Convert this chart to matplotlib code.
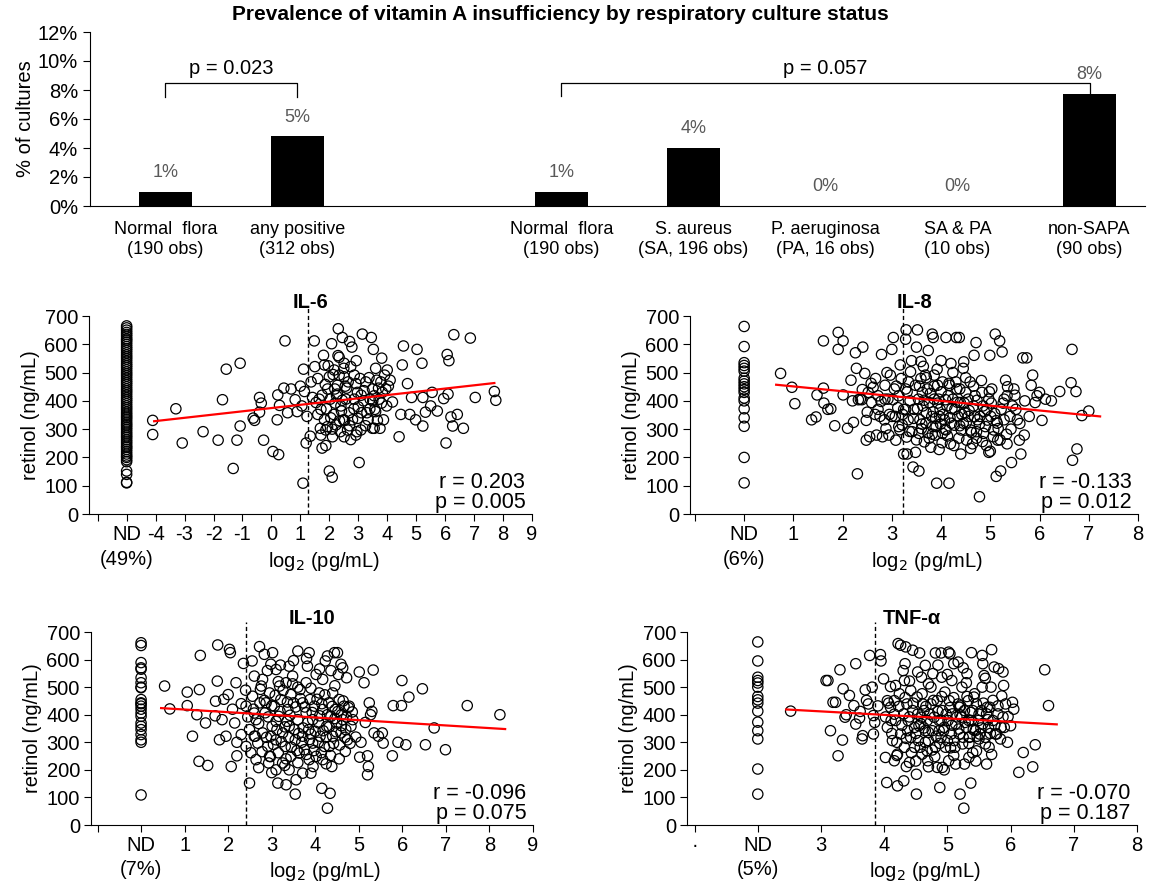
import matplotlib.pyplot as plt
import numpy as np

plt.rcParams['font.family'] = ['Liberation Sans', 'DejaVu Sans']

# ---- top bar chart data ----
cat_labels = ["Normal  flora\n(190 obs)", "any positive\n(312 obs)",
              "Normal  flora\n(190 obs)", "S. aureus\n(SA, 196 obs)",
              "P. aeruginosa\n(PA, 16 obs)", "SA & PA\n(10 obs)", "non-SAPA\n(90 obs)"]
cat_pos = [0, 1, 3, 4, 5, 6, 7]
pct_values = [0.99, 4.8, 0.99, 4.02, 0.0, 0.0, 7.7]
pct_labels = ["1%", "5%", "1%", "4%", "0%", "0%", "8%"]

# ---- scatter data (log2 pg/mL, retinol ng/mL) ----
il6_nd = [110, 112, 140, 152, 185, 192, 200, 205, 212, 220, 228, 235, 240, 248, 255, 262,
          270, 276, 283, 290, 298, 305, 312, 318, 325, 333, 340, 346, 353, 360, 368, 375,
          382, 390, 398, 405, 412, 420, 428, 435, 442, 450, 458, 465, 472, 480, 488, 495,
          502, 510, 518, 525, 532, 540, 548, 555, 562, 570, 578, 585, 592, 600, 608, 615,
          620, 628, 635, 642, 650, 658, 665]
il6_pts = [(-4.1, 331), (-4.1, 281), (-3.3, 372), (-3.08, 251), (-2.36, 291), (-1.84, 261),
           (-1.69, 404), (-1.56, 512), (-1.32, 161), (-1.19, 261), (-1.08, 533), (-1.08, 311),
           (-0.63, 339), (-0.58, 331), (-0.41, 412), (-0.35, 392), (-0.41, 360), (-0.27, 261),
           (0.05, 221), (0.25, 210), (0.2, 333), (0.22, 421), (0.28, 384), (0.43, 445),
           (0.47, 612), (0.56, 358), (0.68, 442), (0.82, 404), (0.89, 362), (1.0, 452),
           (1.05, 382), (1.14, 433), (1.11, 512), (1.2, 251), (1.09, 109), (1.23, 345),
           (1.34, 275), (1.48, 612), (1.42, 412), (1.5, 521), (1.6, 479), (1.65, 406),
           (1.69, 303), (1.75, 233), (1.8, 561), (1.86, 458), (1.88, 242), (1.96, 524),
           (2.0, 152), (2.1, 130), (2.08, 602), (2.13, 493), (2.19, 442), (2.25, 418),
           (2.31, 655), (2.34, 554), (2.4, 382), (2.45, 624), (2.5, 515), (2.53, 331),
           (2.6, 445), (2.65, 467), (2.74, 263), (2.78, 590), (2.86, 491), (2.93, 542),
           (2.97, 430), (3.03, 182), (3.09, 297), (3.0, 379), (3.14, 636), (3.2, 436),
           (3.3, 358), (3.37, 482), (3.45, 624), (3.52, 582), (3.55, 303), (3.6, 515),
           (3.66, 331), (3.7, 445), (3.75, 303), (3.81, 551), (3.87, 333), (3.95, 442),
           (4.0, 509), (4.1, 473), (4.18, 396), (4.41, 273), (4.47, 352), (4.52, 527),
           (4.56, 594), (4.7, 461), (4.78, 352), (4.84, 412), (4.98, 333), (5.03, 582),
           (5.2, 533), (5.23, 311), (5.23, 412), (5.32, 360), (5.5, 382), (5.55, 430),
           (5.73, 364), (5.95, 408), (6.03, 251), (6.07, 564), (6.13, 542), (6.1, 424),
           (6.2, 343), (6.26, 311), (6.42, 352), (6.63, 303), (6.3, 634), (6.87, 622),
           (7.04, 412), (7.7, 433), (7.75, 402),
           (1.37, 467), (1.54, 394), (1.71, 370), (1.83, 333), (1.94, 309), (2.03, 406),
           (2.15, 352), (2.23, 315), (2.28, 455), (2.38, 291), (2.42, 364), (2.49, 333),
           (2.57, 406), (2.63, 297), (2.69, 358), (2.8, 333), (2.86, 406), (2.92, 461),
           (2.95, 291), (3.06, 479), (3.11, 358), (3.18, 400), (3.26, 467), (3.34, 333),
           (3.41, 406), (3.49, 442), (3.57, 370), (3.64, 473), (3.72, 406), (3.78, 467),
           (3.83, 430), (3.91, 491), (3.98, 382), (4.04, 452), (3.55, 418), (2.51, 485),
           (2.34, 491), (2.0, 485), (1.88, 297), (1.71, 279), (2.11, 273), (2.51, 273),
           (2.92, 279), (3.49, 303), (1.94, 442), (1.83, 527), (2.51, 533), (2.74, 521),
           (2.28, 424), (2.17, 509),
           (1.6, 352), (1.75, 420), (1.9, 372), (2.05, 340), (2.2, 392), (2.35, 330),
           (2.45, 402), (2.55, 452), (2.7, 312), (2.85, 372), (2.98, 338), (3.1, 420),
           (3.25, 312), (3.4, 372), (3.6, 362), (3.8, 392), (2.3, 560), (2.7, 610),
           (3.5, 400), (2.1, 300)]

il8_nd = [663, 592, 535, 525, 515, 505, 480, 470, 460, 450, 440, 430, 410, 400, 372, 340,
          310, 200, 110]
il8_pts = [(0.74, 497), (0.97, 448), (1.03, 390), (1.37, 333), (1.46, 343), (1.48, 421),
           (1.61, 445), (1.61, 612), (1.62, 392), (1.7, 370), (1.76, 372), (1.84, 312),
           (1.91, 582), (1.91, 642), (2.01, 612), (2.01, 421), (2.1, 303), (2.17, 473),
           (2.22, 324), (2.26, 570), (2.28, 515), (2.3, 142), (2.32, 404), (2.36, 406),
           (2.39, 404), (2.41, 590), (2.45, 497), (2.48, 261), (2.48, 331), (2.55, 273),
           (2.62, 448), (2.67, 479), (2.69, 279), (2.72, 370), (2.76, 345), (2.79, 564),
           (2.81, 273), (2.85, 333), (2.9, 500), (2.92, 406), (2.94, 279), (3.0, 582),
           (3.03, 624), (3.05, 442), (3.08, 261), (3.12, 376), (3.17, 527), (3.21, 315),
           (3.24, 212), (3.28, 618), (3.29, 651), (3.31, 212), (3.34, 467), (3.37, 400),
           (3.41, 291), (3.43, 166), (3.48, 218), (3.5, 590), (3.52, 651), (3.55, 152),
           (3.57, 333), (3.59, 539), (3.62, 430), (3.66, 255), (3.68, 491), (3.7, 358),
           (3.74, 578), (3.79, 236), (3.82, 636), (3.84, 624), (3.86, 406), (3.88, 279),
           (3.91, 109), (3.93, 455), (3.97, 345), (4.0, 542), (4.03, 285), (4.1, 624),
           (4.14, 418), (4.16, 109), (4.19, 248), (4.24, 500), (4.28, 370), (4.31, 624),
           (4.37, 624), (4.38, 442), (4.41, 297), (4.45, 515), (4.48, 358), (4.52, 261),
           (4.55, 406), (4.59, 467), (4.64, 248), (4.67, 561), (4.71, 606), (4.74, 333),
           (4.78, 61), (4.83, 430), (4.86, 285), (4.93, 370), (4.97, 218), (4.99, 561),
           (5.03, 442), (5.07, 297), (5.1, 636), (5.12, 133), (5.15, 261), (5.19, 612),
           (5.21, 152), (5.24, 573), (5.28, 406), (5.31, 473), (5.34, 248), (5.4, 345),
           (5.43, 182), (5.48, 442), (5.52, 370), (5.59, 261), (5.62, 212), (5.66, 552),
           (5.74, 552), (5.69, 279), (5.79, 345), (5.83, 455), (5.86, 491), (5.91, 394),
           (5.95, 418), (6.0, 430), (6.05, 331), (6.12, 406), (6.24, 400), (6.41, 433),
           (6.64, 464), (6.66, 582), (6.74, 433), (6.76, 230), (6.67, 190), (6.86, 348),
           (7.0, 364),
           (2.86, 455), (2.97, 491), (3.07, 345), (3.14, 418), (3.19, 479), (3.24, 370),
           (3.28, 442), (3.33, 333), (3.38, 503), (3.45, 370), (3.48, 455), (3.54, 406),
           (3.59, 479), (3.63, 382), (3.69, 321), (3.72, 442), (3.76, 394), (3.81, 345),
           (3.86, 491), (3.9, 309), (3.95, 406), (3.98, 370), (4.03, 467), (4.07, 333),
           (4.12, 382), (4.17, 455), (4.21, 321), (4.24, 406), (4.3, 467), (4.34, 345),
           (4.39, 394), (4.45, 321), (4.5, 430), (4.55, 345), (4.6, 297), (4.66, 382),
           (4.69, 418), (4.72, 291), (4.79, 345), (4.85, 382), (4.9, 309), (4.97, 406),
           (5.01, 345), (5.06, 273), (5.14, 321), (5.22, 370), (5.28, 333), (5.34, 418),
           (5.45, 382), (5.55, 333), (3.55, 285), (3.83, 309), (4.1, 297), (3.28, 370),
           (3.14, 309), (3.0, 345), (2.86, 406), (2.72, 418), (2.59, 394), (2.52, 430),
           (3.52, 372), (3.61, 318), (3.66, 402), (3.73, 287), (3.78, 426), (3.84, 361),
           (3.89, 338), (3.93, 392), (3.99, 318), (4.04, 352), (4.09, 404), (4.13, 276),
           (4.18, 341), (4.22, 372), (4.27, 314), (4.33, 395), (4.36, 268), (4.42, 352),
           (4.47, 392), (4.51, 322), (4.57, 366), (4.62, 288), (4.68, 344), (4.73, 402),
           (4.78, 318), (4.84, 256), (4.88, 362), (4.94, 332), (5.02, 392), (5.09, 355),
           (5.16, 302), (5.26, 392), (5.33, 282), (3.44, 338), (3.36, 292), (3.31, 432),
           (3.22, 352), (3.16, 298), (3.09, 452), (3.02, 404), (2.95, 352), (2.88, 302),
           (2.78, 398), (2.66, 352), (2.58, 462), (3.56, 452), (3.7, 482), (3.86, 452),
           (4.0, 432), (4.16, 462), (4.32, 442), (4.5, 482), (4.66, 452), (4.82, 472),
           (4.98, 432), (3.64, 522), (3.92, 512), (4.2, 532), (4.46, 538), (3.4, 542),
           (3.76, 268), (4.02, 252), (4.26, 242), (4.6, 232), (4.92, 242), (5.2, 262),
           (3.5, 262), (3.3, 272), (3.96, 228), (4.4, 212), (5.0, 222), (3.6, 302),
           (3.82, 282), (4.08, 300), (4.38, 312), (4.72, 268), (5.12, 330), (5.42, 300),
           (5.6, 320), (5.7, 400), (5.5, 420), (5.35, 450), (2.5, 360), (2.4, 440),
           (2.2, 400)]

il10_nd = [661, 651, 589, 570, 565, 534, 516, 500, 498, 455, 443, 440, 431, 420, 406, 394,
           370, 358, 346, 328, 309, 300, 109]
il10_pts = [(0.54, 504), (0.66, 421), (1.06, 482), (1.06, 433), (1.18, 322), (1.28, 400),
            (1.34, 491), (1.36, 615), (1.48, 370), (1.33, 231), (1.53, 216), (1.76, 653),
            (1.75, 522), (1.71, 449), (1.8, 309), (1.86, 382), (1.95, 322), (2.03, 637),
            (2.05, 625), (2.0, 473), (2.07, 212), (2.2, 251), (2.18, 516), (2.15, 370),
            (2.3, 328), (2.35, 586), (2.4, 489), (2.49, 152), (2.55, 595), (2.6, 406),
            (2.72, 647), (2.64, 237), (2.76, 504), (2.83, 619), (2.87, 443), (2.93, 225),
            (2.98, 583), (3.02, 625), (3.1, 376), (3.14, 152), (3.18, 504), (3.25, 225),
            (3.33, 146), (3.4, 576), (3.44, 473), (3.54, 112), (3.56, 164), (3.6, 631),
            (3.63, 261), (3.71, 443), (3.82, 576), (3.86, 625), (3.9, 188), (3.94, 382),
            (4.02, 546), (4.09, 479), (4.15, 133), (4.23, 595), (4.28, 613), (4.34, 115),
            (4.28, 61), (4.38, 212), (4.44, 625), (4.51, 625), (4.53, 546), (4.59, 583),
            (4.63, 570), (4.69, 267), (4.72, 534), (4.78, 431), (4.82, 358), (4.86, 382),
            (4.93, 319), (5.01, 555), (5.02, 246), (5.12, 516), (5.2, 251), (5.22, 212),
            (5.2, 182), (5.24, 443), (5.27, 400), (5.33, 562), (5.35, 334), (5.45, 322),
            (5.54, 334), (5.56, 297), (5.77, 251), (5.79, 433), (5.9, 300), (5.98, 433),
            (5.99, 524), (6.08, 291), (6.15, 464), (6.46, 494), (6.53, 291), (6.73, 352),
            (6.99, 273), (7.49, 433), (8.24, 400),
            (2.41, 431), (2.49, 346), (2.56, 467), (2.64, 382), (2.68, 297), (2.73, 443),
            (2.79, 334), (2.85, 407), (2.91, 285), (2.95, 479), (3.01, 358), (3.06, 431),
            (3.1, 309), (3.16, 394), (3.21, 455), (3.25, 334), (3.31, 285), (3.37, 419),
            (3.4, 358), (3.44, 249), (3.5, 443), (3.54, 309), (3.6, 382), (3.65, 491),
            (3.71, 322), (3.75, 273), (3.79, 407), (3.85, 346), (3.88, 455), (3.94, 297),
            (3.98, 431), (4.02, 249), (4.08, 370), (4.11, 322), (4.17, 419), (4.21, 285),
            (4.26, 358), (4.31, 443), (4.36, 394), (4.4, 322), (4.46, 419), (4.49, 370),
            (4.55, 455), (4.59, 334), (4.63, 382), (4.66, 431), (4.7, 346), (4.74, 309),
            (2.95, 249), (2.79, 528), (3.33, 516), (3.79, 516), (4.17, 528), (3.1, 564),
            (3.48, 540), (2.41, 285), (2.6, 322), (3.86, 237), (4.17, 237), (3.4, 200),
            (3.71, 188), (3.1, 200), (4.4, 479), (4.32, 285),
            (2.45, 392), (2.52, 262), (2.58, 420), (2.62, 322), (2.7, 368), (2.74, 492),
            (2.78, 266), (2.83, 452), (2.88, 318), (2.92, 392), (2.97, 248), (3.0, 432),
            (3.04, 292), (3.08, 470), (3.12, 346), (3.15, 262), (3.19, 412), (3.22, 302),
            (3.26, 488), (3.3, 356), (3.33, 240), (3.36, 446), (3.39, 318), (3.42, 398),
            (3.45, 282), (3.48, 512), (3.52, 346), (3.55, 428), (3.58, 270), (3.62, 332),
            (3.66, 458), (3.69, 300), (3.72, 352), (3.76, 428), (3.8, 256), (3.83, 372),
            (3.87, 310), (3.9, 496), (3.93, 408), (3.97, 270), (4.0, 340), (4.04, 456),
            (4.07, 300), (4.1, 396), (4.14, 262), (4.18, 342), (4.22, 472), (4.25, 318),
            (4.28, 400), (4.32, 356), (4.35, 252), (4.39, 430), (4.42, 296), (4.45, 386),
            (4.48, 338), (4.52, 412), (4.56, 290), (4.6, 360), (4.64, 450), (4.68, 318),
            (4.72, 392), (4.76, 426), (4.8, 296), (4.85, 410), (2.6, 540), (2.9, 560),
            (3.2, 580), (3.5, 596), (3.8, 604), (4.1, 566), (4.36, 560), (2.7, 208),
            (3.0, 190), (3.3, 216), (3.6, 226), (3.95, 212), (4.25, 222), (4.55, 240),
            (2.3, 440), (2.2, 300), (2.1, 420), (1.9, 456), (1.7, 396), (5.05, 300),
            (5.15, 372), (5.3, 412), (3.15, 520), (3.6, 500), (4.45, 505), (2.98, 322),
            (3.35, 376), (3.9, 330), (4.15, 440), (4.6, 400)]

tnf_nd = [664, 595, 536, 524, 515, 500, 466, 454, 442, 413, 373, 342, 312, 203, 112]
tnf_pts = [(2.52, 413), (3.08, 524), (3.11, 524), (3.15, 342), (3.19, 445), (3.23, 445),
           (3.27, 251), (3.3, 563), (3.34, 308), (3.35, 494), (3.38, 391), (3.52, 433),
           (3.55, 585), (3.61, 388), (3.65, 312), (3.66, 324), (3.7, 490), (3.75, 439),
           (3.77, 615), (3.81, 500), (3.83, 397), (3.94, 618), (3.95, 595), (3.99, 530),
           (4.02, 245), (4.04, 154), (4.05, 451), (4.11, 379), (4.16, 451), (4.18, 506),
           (4.21, 142), (4.22, 658), (4.26, 652), (4.31, 160), (4.33, 585), (4.34, 646),
           (4.37, 342), (4.4, 227), (4.42, 488), (4.45, 634), (4.48, 282), (4.51, 112),
           (4.51, 184), (4.53, 555), (4.56, 624), (4.59, 391), (4.61, 439), (4.65, 579),
           (4.68, 269), (4.7, 211), (4.74, 500), (4.77, 549), (4.81, 624), (4.84, 209),
           (4.87, 342), (4.88, 136), (4.9, 624), (4.92, 209), (4.96, 482), (5.02, 627),
           (5.04, 621), (5.07, 524), (5.1, 585), (5.13, 221), (5.17, 591), (5.19, 427),
           (5.2, 112), (5.26, 61), (5.27, 221), (5.31, 549), (5.34, 379), (5.37, 152),
           (5.38, 625), (5.42, 464), (5.46, 269), (5.5, 312), (5.55, 615), (5.56, 585),
           (5.58, 542), (5.62, 221), (5.63, 427), (5.69, 500), (5.7, 636), (5.74, 573),
           (5.78, 330), (5.81, 567), (5.88, 555), (5.9, 354), (5.89, 506), (5.92, 439),
           (5.96, 393), (6.03, 445), (6.13, 191), (6.2, 263), (6.35, 211), (6.39, 291),
           (6.54, 563), (6.6, 433),
           (4.05, 354), (4.1, 427), (4.13, 306), (4.18, 379), (4.21, 257), (4.24, 476),
           (4.26, 330), (4.31, 403), (4.32, 282), (4.36, 439), (4.38, 379), (4.42, 318),
           (4.45, 415), (4.48, 354), (4.52, 464), (4.54, 306), (4.58, 367), (4.6, 257),
           (4.63, 415), (4.65, 342), (4.68, 379), (4.7, 306), (4.74, 439), (4.76, 342),
           (4.79, 391), (4.81, 282), (4.84, 451), (4.87, 379), (4.9, 318), (4.92, 415),
           (4.95, 354), (4.97, 282), (5.01, 379), (5.03, 451), (5.06, 330), (5.08, 403),
           (5.11, 306), (5.13, 367), (5.17, 439), (5.19, 330), (5.22, 391), (5.24, 294),
           (5.27, 415), (5.3, 354), (5.33, 451), (5.35, 318), (5.38, 379), (5.4, 415),
           (5.44, 342), (5.46, 439), (5.49, 379), (5.51, 330), (5.54, 415), (5.56, 367),
           (5.6, 318), (5.62, 403), (5.65, 354), (5.67, 427), (5.72, 379), (5.76, 330),
           (5.8, 403), (5.85, 354), (4.32, 524), (4.59, 536), (4.91, 536), (5.23, 500),
           (5.55, 500), (4.69, 233), (5.02, 233), (5.34, 245), (5.66, 282), (4.16, 233),
           (3.83, 330),
           (4.02, 392), (4.07, 442), (4.12, 332), (4.16, 402), (4.2, 300), (4.23, 430),
           (4.28, 362), (4.33, 462), (4.35, 314), (4.4, 392), (4.43, 262), (4.46, 442),
           (4.5, 332), (4.53, 402), (4.57, 282), (4.6, 476), (4.63, 352), (4.66, 430),
           (4.7, 336), (4.72, 402), (4.76, 272), (4.78, 452), (4.82, 322), (4.85, 412),
           (4.88, 296), (4.91, 466), (4.94, 342), (4.98, 402), (5.0, 306), (5.04, 426),
           (5.07, 362), (5.1, 462), (5.12, 282), (5.15, 392), (5.18, 348), (5.21, 432),
           (5.25, 318), (5.28, 372), (5.31, 466), (5.34, 296), (5.37, 408), (5.41, 346),
           (5.43, 476), (5.47, 322), (5.5, 402), (5.53, 352), (5.57, 442), (5.6, 294),
           (5.64, 382), (5.68, 332), (5.72, 452), (5.75, 362), (5.8, 432), (5.84, 312),
           (5.88, 392), (5.86, 468), (4.1, 502), (4.4, 522), (4.7, 512), (5.0, 546),
           (5.3, 516), (5.6, 532), (4.3, 560), (4.85, 580), (5.25, 570), (4.2, 252),
           (4.5, 232), (4.8, 248), (5.1, 252), (5.4, 262), (5.7, 256), (4.35, 212),
           (4.95, 200), (5.45, 232), (3.9, 432), (3.85, 372), (3.72, 452), (3.62, 412),
           (3.55, 366), (3.45, 470), (3.4, 400), (6.0, 360), (6.05, 420), (5.95, 300),
           (4.55, 360), (4.9, 380), (5.2, 400), (4.65, 300), (5.05, 280), (5.35, 320)]

# fitted lines (endpoints) and detection cut-offs
il6_fit = ([-4.05, 7.7], [328, 463])
il8_fit = ([0.65, 7.23], [457, 345])
il10_fit = ([0.46, 8.36], [424, 348])
tnf_fit = ([2.45, 6.73], [419, 365])
cutoffs = {"IL-6": 1.28, "IL-8": 3.23, "IL-10": 2.41, "TNF-α": 3.86}
stats = {"IL-6": "r = 0.203\np = 0.005", "IL-8": "r = -0.133\np = 0.012",
         "IL-10": "r = -0.096\np = 0.075", "TNF-α": "r = -0.070\np = 0.187"}
nd_share = {"IL-6": "(49%)", "IL-8": "(6%)", "IL-10": "(7%)", "TNF-α": "(5%)"}

W, H = 1150, 888
fig = plt.figure(figsize=(W / 100, H / 100), dpi=100)


def rect(x0, x1, ytop, ybot):
    return [x0 / W, 1 - ybot / H, (x1 - x0) / W, (ybot - ytop) / H]


# ---- top bar chart ----
ax = fig.add_axes(rect(90, 1145, 32, 206))
ax.bar(cat_pos, pct_values, width=0.4, color="black")
for p, v, lab in zip(cat_pos, pct_values, pct_labels):
    ax.text(p, v + 0.75, lab, ha="center", va="bottom", fontsize=13, color="#595959")
ax.set_xlim(-0.57, 7.42)
ax.set_ylim(0, 12)
ax.set_yticks(range(0, 13, 2))
ax.set_yticklabels([f"{t}%" for t in range(0, 13, 2)], fontsize=14.5)
ax.set_xticks(cat_pos)
ax.set_xticklabels(cat_labels, fontsize=13, linespacing=1.2)
ax.tick_params(axis="x", length=0, pad=11)
ax.tick_params(axis="y", length=5, direction="out")
ax.set_ylabel("% of cultures", fontsize=14.5, labelpad=2)
for s in ["top", "right"]:
    ax.spines[s].set_visible(False)
# significance brackets
ax.plot([0, 0, 1, 1], [7.5, 8.45, 8.45, 7.5], color="black", lw=0.9)
ax.text(0.5, 8.8, "p = 0.023", ha="center", va="bottom", fontsize=14.5)
ax.plot([3, 3, 7, 7], [7.6, 8.5, 8.5, 7.75], color="black", lw=0.9)
ax.text(5, 8.8, "p = 0.057", ha="center", va="bottom", fontsize=14.5)
fig.text(0.487, 0.984, "Prevalence of vitamin A insufficiency by respiratory culture status",
         ha="center", va="center", fontsize=15, fontweight="bold")


def scatter_panel(r, name, nd_x, nd_vals, pts, fit, ticks, labels, xlim):
    a = fig.add_axes(r)
    pts = np.array(pts)
    a.scatter(np.full(len(nd_vals), nd_x), nd_vals, s=55, facecolors="none",
              edgecolors="black", linewidths=0.9, clip_on=False, zorder=2)
    a.scatter(pts[:, 0], pts[:, 1], s=55, facecolors="none", edgecolors="black",
              linewidths=0.9, clip_on=False, zorder=2)
    a.plot(fit[0], fit[1], color="red", lw=1.6, zorder=3)
    xc = cutoffs[name]
    a.plot([xc, xc], [0, 735], color="black", lw=1.0, ls=(0, (3, 2)), clip_on=False, zorder=1)
    a.set_xlim(*xlim)
    a.set_ylim(0, 700)
    a.set_yticks(range(0, 701, 100))
    a.set_xticks(ticks)
    a.set_xticklabels(labels)
    a.tick_params(labelsize=14.5, length=5, direction="out", pad=3)
    a.set_ylabel("retinol (ng/mL)", fontsize=14.5, labelpad=3)
    a.set_xlabel("log$_2$ (pg/mL)", fontsize=14.5)
    a.xaxis.set_label_coords(0.53, -0.18)
    # share of non-detectable samples, second line under "ND"
    a.text(nd_x, -0.18, nd_share[name], transform=a.get_xaxis_transform(),
           ha="center", va="top", fontsize=14.5)
    a.set_title(name, fontsize=14.5, fontweight="bold", pad=6)
    a.text(0.985, 0.005, stats[name], transform=a.transAxes, ha="right", va="bottom",
           fontsize=15.5, linespacing=0.95)
    for s in ["top", "right"]:
        a.spines[s].set_visible(False)
    return a


scatter_panel(rect(89, 532, 316, 514), "IL-6", -5, il6_nd, il6_pts, il6_fit,
              list(range(-6, 10)), ["", "ND"] + [str(t) for t in range(-4, 10)],
              (-6.3, 9))
scatter_panel(rect(690, 1138, 316, 514), "IL-8", 0, il8_nd, il8_pts, il8_fit,
              list(range(-1, 9)), ["", "ND"] + [str(t) for t in range(1, 9)],
              (-1.1, 8))
scatter_panel(rect(91, 533, 632, 825), "IL-10", 0, il10_nd, il10_pts, il10_fit,
              list(range(-1, 10)), ["", "ND"] + [str(t) for t in range(1, 10)],
              (-1.15, 9))
scatter_panel(rect(687, 1137, 632, 825), "TNF-α", 2, tnf_nd, tnf_pts, tnf_fit,
              list(range(1, 9)), ["·", "ND"] + [str(t) for t in range(3, 9)],
              (0.88, 8))

fig.savefig("out.png", dpi=100)
